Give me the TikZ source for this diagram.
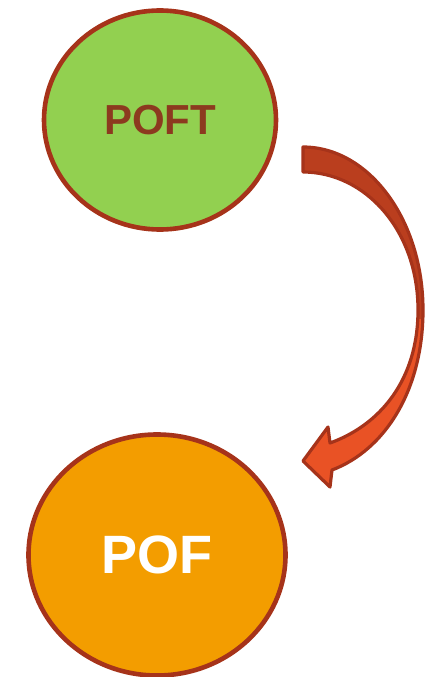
\documentclass[tikz,border=0pt]{standalone}
\usepackage{fontspec}
\setmainfont{Liberation Sans}
\usetikzlibrary{shapes.geometric}
\definecolor{edgered}{HTML}{A6331A}
\definecolor{leafgreen}{HTML}{92D050}
\definecolor{amber}{HTML}{F39D00}
\definecolor{brownred}{HTML}{8C3A1F}
\definecolor{arrowdark}{HTML}{BA3E1E}
\definecolor{arrowlight}{HTML}{E95225}
\tikzset{
  bubble/.style={ellipse, draw=edgered, line width=4.6pt, inner sep=0pt, font=\bfseries},
}
\begin{document}
\begin{tikzpicture}[x=1pt,y=-1pt]
\useasboundingbox (0,0) rectangle (430,677);
\node[bubble, fill=leafgreen, minimum width=232pt, minimum height=219pt, text=brownred,
  font=\bfseries\fontsize{42}{50}\selectfont] (poft) at (160,120) {POFT};
\node[bubble, fill=amber, minimum width=257pt, minimum height=241pt, text=white,
  font=\bfseries\fontsize{54}{64}\selectfont] (pof) at (157,555) {POF};
\def\arrowpath{(303,147) .. controls (369,147) and (423,220) .. (423,310)
  .. controls (423,390) and (385,450) .. (332,470)
  -- (330,487) -- (303,461) -- (328,427) -- (330,443)
  .. controls (380,425) and (418,380) .. (418,310)
  .. controls (418,230) and (365,172) .. (303,172) -- cycle}
\fill[arrowlight] \arrowpath;
\begin{scope}
\clip (290,130) rectangle (440,318);
\fill[arrowdark] \arrowpath;
\end{scope}
\draw[edgered, line width=3.2pt, line join=round] \arrowpath;
\end{tikzpicture}
\end{document}
